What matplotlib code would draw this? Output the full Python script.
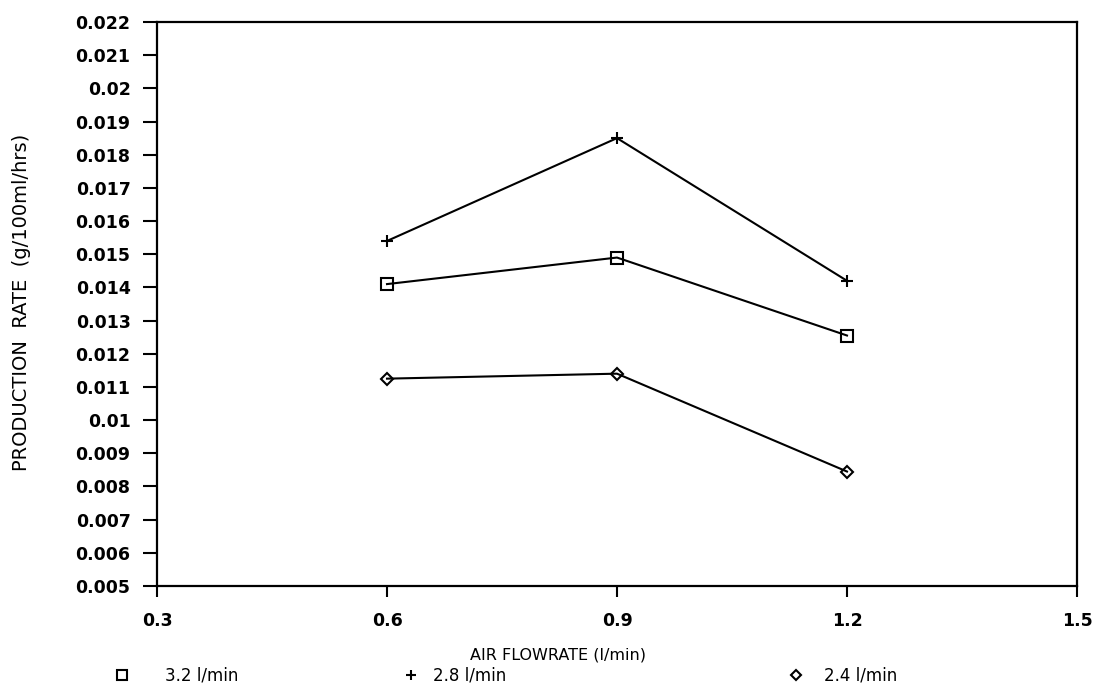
import matplotlib
matplotlib.use("Agg")
import matplotlib.pyplot as plt
from matplotlib.lines import Line2D

# Data
air_flowrate = [0.6, 0.9, 1.2]
series_labels = ["3.2 l/min", "2.8 l/min", "2.4 l/min"]
rate_32 = [0.0141, 0.0149, 0.01255]
rate_28 = [0.0154, 0.0185, 0.0142]
rate_24 = [0.01125, 0.0114, 0.00845]
x_ticks = [0.3, 0.6, 0.9, 1.2, 1.5]
y_ticks = [0.005, 0.006, 0.007, 0.008, 0.009, 0.01, 0.011, 0.012, 0.013,
           0.014, 0.015, 0.016, 0.017, 0.018, 0.019, 0.02, 0.021, 0.022]

fig = plt.figure(figsize=(10.98, 6.85), dpi=100)
fig.patch.set_facecolor("white")
ax = fig.add_axes([157/1098, 1-586/685, (1077-157)/1098, (586-22)/685])

markers = ["s", "+", "D"]
msizes = [8, 9, 6]
series = [rate_32, rate_28, rate_24]
for vals, m, ms in zip(series, markers, msizes):
    ax.plot(air_flowrate, vals, color="black", lw=1.5, marker=m, ms=ms,
            mfc="none", mec="black", mew=1.5)

ax.set_xlim(0.3, 1.5)
ax.set_ylim(0.005, 0.022)
ax.set_xticks(x_ticks)
ax.set_xticklabels([f"{v:g}" for v in x_ticks])
ax.set_yticks(y_ticks)
ax.set_yticklabels([f"{v:g}" for v in y_ticks])
for s in ax.spines.values():
    s.set_linewidth(1.6)
ax.tick_params(axis="y", direction="out", length=10, width=1.5, pad=9,
               labelsize=12.5)
ax.tick_params(axis="x", direction="out", length=8, width=1.5, pad=11,
               labelsize=12.5)
for lab in ax.get_xticklabels() + ax.get_yticklabels():
    lab.set_fontweight("bold")

fig.text(22/1098, 1-302/685, "PRODUCTION  RATE  (g/100ml/hrs)", rotation=90,
         ha="center", va="center", fontsize=14)
fig.text(558/1098, 1-655/685, "AIR FLOWRATE (l/min)", ha="center",
         va="center", fontsize=11.5)

leg_x = [113.7, 402.7, 787.7]
leg_pad = [2.08, 0.82, 1.18]
for lbl, m, ms, xx, pad in zip(series_labels, markers, [7, 7, 5], leg_x, leg_pad):
    h = Line2D([], [], ls="none", marker=m, ms=ms, mfc="none", mec="black",
               mew=1.5)
    fig.legend(handles=[h], labels=[lbl], loc="center left",
               bbox_to_anchor=(xx/1098, 1-676/685), frameon=False,
               fontsize=12, handlelength=1.0, handletextpad=pad,
               borderpad=0, borderaxespad=0)

fig.savefig("out.png", dpi=100, facecolor="white")
